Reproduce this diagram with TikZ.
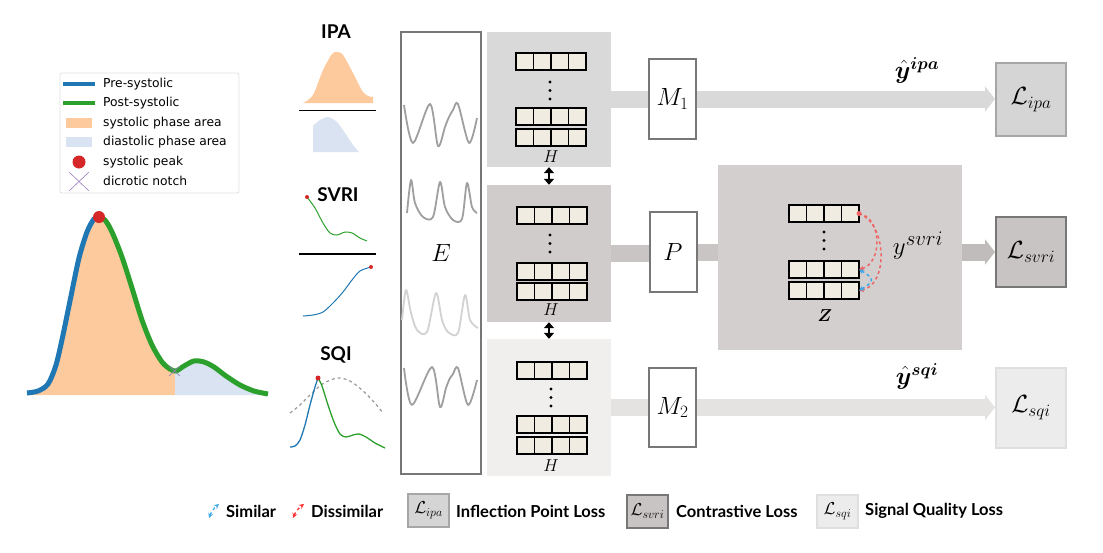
\documentclass[tikz,border=0pt]{standalone}
\usepackage{amsmath, amssymb, bm, xcolor}
\usepackage{fontspec}
\newfontfamily\labfont{Lato}
\newfontfamily\mplfont{DejaVu Sans}
\usetikzlibrary{arrows.meta, positioning}

\definecolor{preblue}{HTML}{1F77B4}
\definecolor{postgreen}{HTML}{2CA02C}
\definecolor{peakred}{HTML}{D62728}
\definecolor{sysfillc}{HTML}{FDCA9D}
\definecolor{diafillc}{HTML}{DAE3F1}
\definecolor{notchc}{HTML}{9A7FBF}
\definecolor{boxc}{HTML}{777777}
\definecolor{cellc}{HTML}{F1ECE1}
\definecolor{hA}{HTML}{D9D9D9}
\definecolor{hB}{HTML}{D1CCCC}
\definecolor{hC}{HTML}{F0EFEE}
\definecolor{zpc}{HTML}{D3CFCF}
\definecolor{barB}{HTML}{C9C5C5}
\definecolor{arrB}{HTML}{C0BCBC}
\definecolor{lipac}{HTML}{D5D5D5}
\definecolor{lsvric}{HTML}{C9C4C4}
\definecolor{lsqic}{HTML}{ECECEC}
\definecolor{dissimc}{HTML}{F06464}
\definecolor{simc}{HTML}{3FA9E8}

\tikzset{
  mpltext/.style={anchor=west, inner sep=0pt, font=\mplfont\fontsize{12.3}{12.3}\selectfont},
  ttl/.style={font=\labfont\bfseries\fontsize{19}{19}\selectfont},
  legtext/.style={anchor=west, inner sep=0pt, font=\labfont\bfseries\fontsize{16.5}{16.5}\selectfont},
  sig/.style={draw=gray!75, line width=1.8pt, line join=round},
  wbox/.style={draw=boxc, line width=2pt, fill=white, inner sep=0pt},
  panel/.style={inner sep=0pt, minimum width=124pt},
  cellrow/.style={draw, line width=1.2pt, fill=cellc, minimum width=70pt, minimum height=17pt, inner sep=0pt, outer sep=0pt},
  cellsep/.style={line width=1.2pt},
  hlab/.style={font=\fontsize{18}{18}\selectfont},
  bar/.style={line width=17pt},
  lossarrow/.style={line width=17pt, -{Triangle[length=10pt, width=25pt]}},
  lossbox/.style={draw, line width=2pt, minimum width=70pt, inner sep=0pt, font=\fontsize{27}{27}\selectfont},
  smallloss/.style={draw, line width=2pt, minimum width=41pt, minimum height=33pt, inner sep=0pt, font=\fontsize{17}{17}\selectfont},
  dbl/.style={line width=2.5pt, {Triangle[length=6pt, width=10pt]}-{Triangle[length=6pt, width=10pt]}},
  dissim/.style={draw=dissimc, dashed, line width=1.5pt, -{Stealth[length=5pt, width=5pt]}},
  sim/.style={draw=simc, dashed, line width=1.5pt, {Stealth[length=5pt, width=5pt]}-{Stealth[length=5pt, width=5pt]}},
}

\newcommand{\cellrow}[3]{%
  \node[cellrow, anchor=north west] (#1) at (#2,#3) {};
  \foreach \k in {1,2,3}
    \draw[cellsep] ([xshift=\k*17.5pt]#1.north west) -- ([xshift=\k*17.5pt]#1.south west);
}
\newcommand{\threedots}[2]{%
  \foreach \d in {0,1,2} \fill (#1,#2+\d*8.5) circle (1.7pt);
}

\begin{document}
\begin{tikzpicture}[x=1pt, y=-1pt]
\useasboundingbox (0,0) rectangle (1103,552);

% waveform legend
\draw[gray!25, line width=0.8pt, rounded corners=2pt] (60,73) rectangle (239,193);
\draw[preblue, line width=4.5pt] (63,84) -- (95,84);
\draw[postgreen, line width=4.5pt] (63,103) -- (95,103);
\fill[sysfillc] (66,118) rectangle (92,128);
\fill[diafillc] (66,137) rectangle (92,147);
\fill[peakred] (79,162) circle (6.5pt);
\draw[notchc, line width=0.6pt] (69,172) -- (89,191) (69,191) -- (89,172);
\node[mpltext] (lg1) at (103,84) {Pre-systolic};
\node[mpltext] (lg2) at (103,103) {Post-systolic};
\node[mpltext] (lg3) at (103,123) {systolic phase area};
\node[mpltext] (lg4) at (103,142) {diastolic phase area};
\node[mpltext] (lg5) at (103,162) {systolic peak};
\node[mpltext] (lg6) at (103,181) {dicrotic notch};

% big pulse
\begin{scope}
\clip (0,0) rectangle (175,552);
\fill[sysfillc] plot[smooth] coordinates {(27,393) (38,391) (48,384) (56,365) (63,335) (71,296) (79,258) (87,232) (94,219) (99,217) (105,220) (112,232) (122,257) (132,288) (142,320) (152,345) (162,362) (170,369) (176,371) (184,366) (194,361) (204,362) (214,367) (226,376) (240,385) (254,391) (268,394)} -- (268,395) -- (27,395) -- cycle;
\end{scope}
\begin{scope}
\clip (175,0) rectangle (300,552);
\fill[diafillc] plot[smooth] coordinates {(27,393) (38,391) (48,384) (56,365) (63,335) (71,296) (79,258) (87,232) (94,219) (99,217) (105,220) (112,232) (122,257) (132,288) (142,320) (152,345) (162,362) (170,369) (176,371) (184,366) (194,361) (204,362) (214,367) (226,376) (240,385) (254,391) (268,394)} -- (268,395) -- (27,395) -- cycle;
\end{scope}
\begin{scope}
\clip (0,0) rectangle (99,552);
\draw[preblue, line width=5pt] plot[smooth] coordinates {(27,393) (38,391) (48,384) (56,365) (63,335) (71,296) (79,258) (87,232) (94,219) (99,217) (105,220) (112,232)};
\end{scope}
\begin{scope}
\clip (99,0) rectangle (300,552);
\draw[postgreen, line width=5pt] plot[smooth] coordinates {(87,232) (94,219) (99,217) (105,220) (112,232) (122,257) (132,288) (142,320) (152,345) (162,362) (170,369) (176,371) (184,366) (194,361) (204,362) (214,367) (226,376) (240,385) (254,391) (268,394)};
\end{scope}
\fill[peakred] (99,217) circle (6pt);
\draw[notchc, line width=0.6pt] (169,366) -- (180,376) (169,376) -- (180,366);

% IPA
\node[ttl] (tipa) at (336,32) {IPA};
\fill[sysfillc] plot[smooth] coordinates {(303,103) (313,95) (323,70) (332,54) (337,52) (343,55) (353,73) (363,92) (371,97) (373,96)} -- (373,103) -- cycle;
\draw[line width=1.8pt] (299,110.5) -- (376,110.5);
\fill[diafillc] (313,152) -- plot[smooth] coordinates {(313,126) (315,124) (320,120) (328,117) (337,122) (345,133) (353,145) (359,152)} -- cycle;

% SVRI
\node[ttl] (tsvri) at (338,195) {SVRI};
\draw[postgreen, line width=1pt] plot[smooth] coordinates {(307,197) (315,208) (323,223) (330,233) (337,235) (345,232) (352,233) (360,238) (367,241)};
\fill[peakred] (307,197) circle (2pt);
\draw[line width=1.8pt] (299,254) -- (376,254);
\draw[preblue, line width=1pt] plot[smooth] coordinates {(303,316) (313,315) (323,312) (333,303) (343,292) (352,280) (360,271) (371,267)};
\fill[peakred] (371,267) circle (2pt);

% SQI
\node[ttl] (tsqi) at (336,355) {SQI};
\draw[gray!80, dashed, line width=1.2pt] plot[smooth] coordinates {(290,413) (300,405) (312,393) (324,383) (338,378) (350,381) (362,390) (374,402) (383,413)};
\draw[preblue, line width=1.3pt] plot[smooth] coordinates {(290,447) (295,446) (300,440) (305,425) (310,405) (315,387) (318,378)};
\draw[postgreen, line width=1.3pt] plot[smooth] coordinates {(318,378) (322,386) (328,405) (334,422) (340,434) (346,437) (353,435) (359,434) (366,437) (375,443) (385,448)};
\fill[peakred] (318,378) circle (2.5pt);

% encoder
\node[wbox, minimum width=80pt, minimum height=442pt, font=\fontsize{36}{36}\selectfont] (enc) at (441,253) {$E$};
\draw[sig] plot[smooth, tension=0.5] coordinates {(404,105) (413,143) (430,104) (438,146) (445,127) (449,117) (453,110) (458,104) (469,143) (477,118)};
\draw[sig] plot[smooth, tension=0.5] coordinates {(407,213) (411,180) (415,203) (423,217) (433,217) (440,182) (445,207) (453,220) (462,219) (467,183) (472,207) (477,213)};
\draw[sig, draw=gray!35] plot[smooth, tension=0.5] coordinates {(402,320) (406,290) (411,313) (417,330) (427,332) (436,293) (442,320) (448,332) (458,333) (465,295) (470,320) (478,328)};
\draw[sig] plot[smooth, tension=0.5] coordinates {(404,368) (412,405) (432,367) (440,407) (446,388) (450,378) (453,374) (458,368) (468,405) (477,380)};

% hidden states
\node[panel, fill=hA, minimum height=135pt] (h1) at (549,99.5) {};
\node[panel, fill=hB, minimum height=137pt] (h2) at (549,253.5) {};
\node[panel, fill=hC, minimum height=137pt] (h3) at (549,407.5) {};
\cellrow{h1a}{516}{53}
\threedots{550}{82}
\cellrow{h1b}{516}{108}
\cellrow{h1c}{516}{129}
\node[hlab] (h1l) at (551,157) {$H$};
\cellrow{h2a}{517}{207}
\threedots{550}{235}
\cellrow{h2b}{517}{263}
\cellrow{h2c}{517}{283}
\node[hlab] (h2l) at (551,310) {$H$};
\cellrow{h3a}{517}{362}
\threedots{551}{389}
\cellrow{h3b}{517}{416}
\cellrow{h3c}{517}{437}
\node[hlab] (h3l) at (551,466) {$H$};
\draw[dbl] (h1.south) -- (h2.north);
\draw[dbl] (h2.south) -- (h3.north);

% heads
\node[wbox, minimum width=47pt, minimum height=80pt, font=\fontsize{27}{27}\selectfont] (m1) at (672.5,99) {$M_1$};
\node[wbox, minimum width=47pt, minimum height=80pt, font=\fontsize{26}{26}\selectfont] (p) at (673,252) {$P$};
\node[wbox, minimum width=47pt, minimum height=79pt, font=\fontsize{27}{27}\selectfont] (m2) at (672.5,407.5) {$M_2$};

% contrastive space
\node[inner sep=0pt, fill=zpc, minimum width=244pt, minimum height=185pt] (zp) at (840,257.5) {};
\cellrow{z1}{789}{205}
\threedots{824}{232}
\cellrow{z2}{789}{261}
\cellrow{z3}{789}{282}
\node[hlab] (zl) at (825,316) {$\boldsymbol{Z}$};
\draw[dissim] (z1.east) to[out=-10, in=15, looseness=1.1] (z2.east);
\draw[dissim] (z1.east) to[out=-20, in=10, looseness=1.0] (z3.east);
\draw[sim] (z2.east) to[out=-30, in=30, looseness=2.2] (z3.east);
\fill[dissimc] (z1.east) circle (2.5pt);
\node[font=\fontsize{30}{30}\selectfont] (ysvri) at (918,246) {$y^{svri}$};

% losses
\node[lossbox, draw=gray!70, fill=lipac, minimum height=73pt] (lipa) at (1031,99.5) {$\mathcal{L}_{ipa}$};
\node[lossbox, draw=boxc, fill=lsvric, minimum height=70pt] (lsvri) at (1031,252) {$\mathcal{L}_{svri}$};
\node[lossbox, draw=gray!25, fill=lsqic, minimum height=80pt] (lsqi) at (1031,408) {$\mathcal{L}_{sqi}$};
\node[font=\fontsize{23}{23}\selectfont] (yipa) at (917,70) {$\boldsymbol{\hat{y}^{ipa}}$};
\node[font=\fontsize{23}{23}\selectfont] (ysqi) at (917,376) {$\boldsymbol{\hat{y}^{sqi}}$};

% connectors
\draw[bar, draw=hA] (h1.east |- m1.west) -- (m1.west);
\draw[lossarrow, draw=hA] (m1.east) -- (m1.east -| lipa.west);
\draw[bar, draw=barB] (h2.east) -- (h2.east -| p.west);
\draw[bar, draw=barB] (p.east) -- (p.east -| zp.west);
\draw[lossarrow, draw=arrB] (zp.east |- lsvri.west) -- (lsvri.west);
\draw[bar, draw=hC!95!black] (h3.east) -- (m2.west);
\draw[lossarrow, draw=hC!95!black] (m2.east) -- (m2.east -| lsqi.west);

% bottom legend
\coordinate (sa) at (209,518);
\coordinate (sb) at (219,504);
\coordinate (da) at (293,518);
\coordinate (db) at (304,504);
\draw[sim, line width=1.3pt] (sa) to[bend left=15] (sb);
\draw[dissim, line width=1.3pt, {Stealth[length=5pt, width=5pt]}-{Stealth[length=5pt, width=5pt]}, draw=red!80] (da) to[bend left=15] (db);
\node[legtext] (lsim) at (226,511) {Similar};
\node[legtext] (ldis) at (311,511) {Dissimilar};
\node[smallloss, draw=gray!70, fill=lipac] (kipa) at (428.5,510) {$\mathcal{L}_{ipa}$};
\node[legtext] (tkipa) at (456,511) {Inflection Point Loss};
\node[smallloss, draw=boxc, fill=lsvric] (ksvri) at (647.5,511) {$\mathcal{L}_{svri}$};
\node[legtext] (tksvri) at (676,511) {Contrastive Loss};
\node[smallloss, draw=gray!25, fill=lsqic] (ksqi) at (837.5,511) {$\mathcal{L}_{sqi}$};
\node[legtext] (tksqi) at (865,511) {Signal Quality Loss};
\end{tikzpicture}
\end{document}
